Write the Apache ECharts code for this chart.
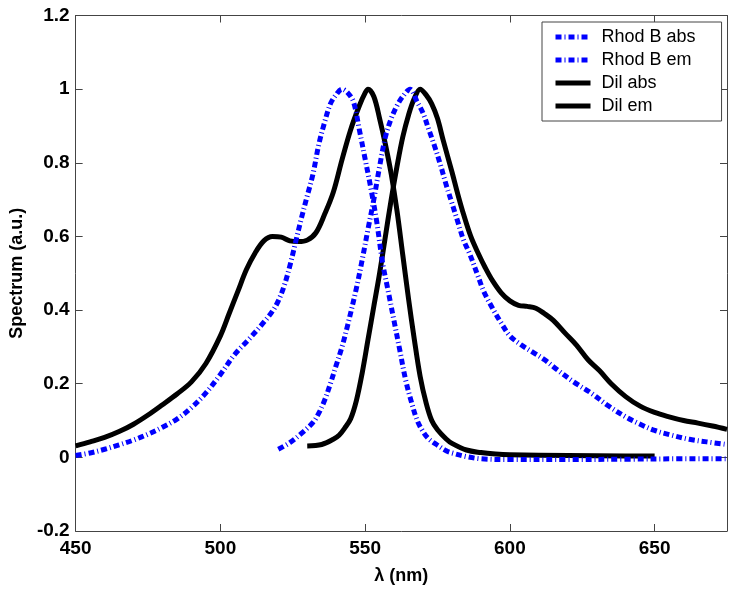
<!DOCTYPE html>
<html>
<head>
<meta charset="utf-8">
<script src="https://cdn.jsdelivr.net/npm/echarts@6/dist/echarts.min.js"></script>
<style>html,body{margin:0;padding:0;background:#fff;}#c{width:736px;height:590px;}</style>
</head>
<body>
<div id="c"></div>
<script>
const rhodAbsX = [450,455,460,465,470,475,480,485,490,495,500,505,510,515,518,520,522,524,526,528,530,532,534,536,538,540,542,544,546,548,550,552,554,556,558,560,562,564,566,568,570,572,575,578,580,585,590,600,620,640,660,675];
const rhodAbsY = [0.005,0.012,0.022,0.034,0.047,0.063,0.082,0.104,0.135,0.175,0.225,0.28,0.322,0.367,0.397,0.425,0.465,0.52,0.585,0.65,0.71,0.77,0.85,0.91,0.96,0.985,1.0,0.99,0.965,0.89,0.81,0.73,0.64,0.53,0.45,0.37,0.29,0.21,0.15,0.1,0.07,0.05,0.033,0.018,0.012,0.002,-0.004,-0.006,-0.006,-0.005,-0.004,-0.004];

const rhodEmX = [520,524,528,532,534,536,538,540,542,544,547,549,551,553,555,557,559,561,563,565.5,568,570,572,574,576,578,580,582,584,586,589,591,594,597,600,604,608,612,616,622,628,634,640,645,650,656,662,668,675];
const rhodEmY = [0.022,0.04,0.065,0.095,0.12,0.155,0.2,0.25,0.3,0.36,0.46,0.537,0.62,0.7,0.79,0.87,0.92,0.955,0.98,1.0,0.965,0.935,0.89,0.845,0.795,0.74,0.69,0.64,0.59,0.555,0.492,0.45,0.405,0.365,0.33,0.305,0.285,0.265,0.24,0.205,0.175,0.14,0.11,0.09,0.073,0.06,0.049,0.042,0.035];

const dilAbsX = [450,455,460,465,470,475,480,485,490,495,500,503,506,509,512,515,518,521,524,527,530,533,536,539,542,545,548,550,551,553,555,557,559,561,563,565,567,569,571,573,575,578,580,585,590,595,600,620,640,650];
const dilAbsY = [0.031,0.042,0.054,0.07,0.09,0.115,0.143,0.172,0.205,0.255,0.33,0.39,0.45,0.51,0.555,0.588,0.6,0.598,0.588,0.586,0.59,0.61,0.66,0.72,0.808,0.89,0.955,0.99,1.0,0.98,0.92,0.85,0.77,0.67,0.55,0.43,0.32,0.22,0.15,0.1,0.075,0.05,0.038,0.02,0.013,0.009,0.007,0.005,0.004,0.004];

const dilEmX = [530,535,539,541,543,545,547,549,551,553,555,557,559,561,563,565,567,569,571,573,575,577,580,582,584,586.5,589,591.5,594,597,600,603,606,609,612,615,619,623,627,631,635,640,645,650,655,660,665,670,675];
const dilEmY = [0.031,0.035,0.049,0.06,0.08,0.105,0.155,0.23,0.32,0.41,0.5,0.6,0.7,0.79,0.87,0.93,0.975,1.0,0.985,0.96,0.92,0.86,0.775,0.715,0.66,0.6,0.555,0.515,0.48,0.447,0.425,0.413,0.41,0.405,0.39,0.372,0.338,0.305,0.265,0.235,0.2,0.165,0.139,0.122,0.11,0.1,0.093,0.085,0.076];

const seriesNames = ['Rhod B abs','Rhod B em','DiI abs','DiI em'];
const legendNames = ['Rhod B abs','Rhod B em','Dil abs','Dil em'];
const xTicks = [450,500,550,600,650];

function pairs(xs, ys){ return xs.map((x,i)=>[x, ys[i]]); }

const FONT = 'Arial, "Liberation Sans", sans-serif';
const blueStyle = {color:'#0000ff', width:5, type:[6,3,1,3], cap:'butt', join:'round'};
const blackStyle = {color:'#000000', width:5, type:'solid', cap:'butt', join:'round'};

const chart = echarts.init(document.getElementById('c'), null, {renderer:'canvas'});
const axisLineStyle = {color:'#444', width:1};
chart.setOption({
  animation:false,
  backgroundColor:'#fff',
  grid:{left:72, right:9, top:15.5, bottom:58, containLabel:false},
  legend:{
    orient:'vertical', left:542, top:22,
    data: seriesNames.map((n,i)=>({name:n})),
    formatter: function(n){ return legendNames[seriesNames.indexOf(n)]; },
    itemWidth:35, itemHeight:8, itemGap:5,
    padding:[6,26,6,11],
    itemStyle:{opacity:0},
    lineStyle:{width:5},
    borderColor:'#444', borderWidth:1, backgroundColor:'#fff', borderRadius:0,
    textStyle:{fontFamily:FONT, fontSize:18, color:'#000', padding:[0,0,0,6]}
  },
  xAxis:[{
    type:'value', min:450, max:675, interval:50,
    name:'λ (nm)', nameLocation:'middle', nameGap:36,
    nameTextStyle:{fontFamily:FONT, fontSize:18, fontWeight:'bold', color:'#000'},
    axisLine:{show:true, onZero:false, lineStyle:axisLineStyle},
    axisTick:{show:true, inside:true, length:7, lineStyle:axisLineStyle},
    axisLabel:{fontFamily:FONT, fontSize:19, fontWeight:'bold', color:'#000', margin:8, showMaxLabel:false,
      formatter:function(v){ return xTicks.indexOf(v)>=0 ? String(v) : ''; }},
    splitLine:{show:false}
  },{
    type:'value', min:450, max:675, interval:50, position:'top',
    axisLine:{show:true, onZero:false, lineStyle:axisLineStyle},
    axisTick:{show:true, inside:true, length:7, lineStyle:axisLineStyle},
    axisLabel:{show:false}, splitLine:{show:false}
  }],
  yAxis:[{
    type:'value', min:-0.2, max:1.2, interval:0.2,
    name:'Spectrum (a.u.)', nameLocation:'middle', nameGap:41, nameRotate:90,
    nameTextStyle:{fontFamily:FONT, fontSize:18, fontWeight:'bold', color:'#000'},
    axisLine:{show:true, onZero:false, lineStyle:axisLineStyle},
    axisTick:{show:true, inside:true, length:7, lineStyle:axisLineStyle},
    axisLabel:{fontFamily:FONT, fontSize:19, fontWeight:'bold', color:'#000', margin:6,
      formatter:function(v){ return String(Math.round(v*10)/10); }},
    splitLine:{show:false}
  },{
    type:'value', min:-0.2, max:1.2, interval:0.2, position:'right',
    axisLine:{show:true, onZero:false, lineStyle:axisLineStyle},
    axisTick:{show:true, inside:true, length:7, lineStyle:axisLineStyle},
    axisLabel:{show:false}, splitLine:{show:false}
  }],
  series:[
    {name:seriesNames[0], type:'line', data:pairs(rhodAbsX, rhodAbsY), showSymbol:false, symbol:'none', smooth:0.35, lineStyle:blueStyle, itemStyle:{color:'#0000ff'}, z:3},
    {name:seriesNames[1], type:'line', data:pairs(rhodEmX, rhodEmY), showSymbol:false, symbol:'none', smooth:0.35, lineStyle:blueStyle, itemStyle:{color:'#0000ff'}, z:3},
    {name:seriesNames[2], type:'line', data:pairs(dilAbsX, dilAbsY), showSymbol:false, symbol:'none', smooth:0.35, lineStyle:blackStyle, itemStyle:{color:'#000'}, z:2},
    {name:seriesNames[3], type:'line', data:pairs(dilEmX, dilEmY), showSymbol:false, symbol:'none', smooth:0.35, lineStyle:blackStyle, itemStyle:{color:'#000'}, z:2}
  ]
});
</script>
</body>
</html>
